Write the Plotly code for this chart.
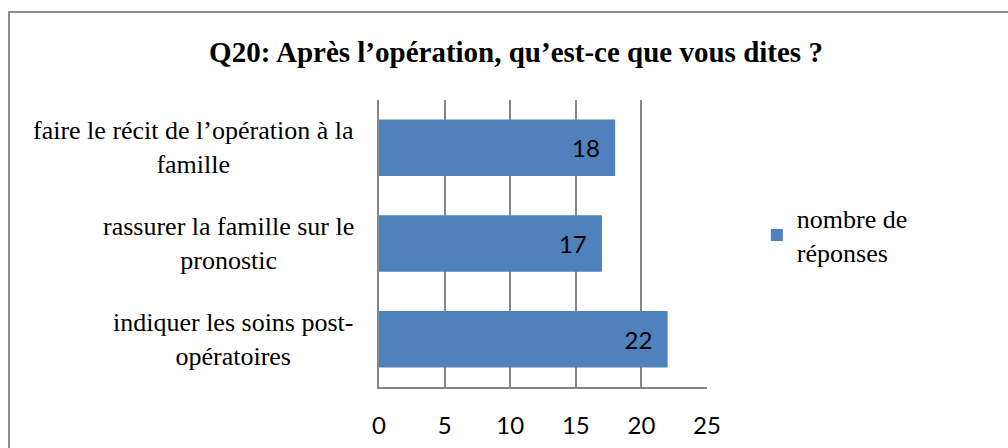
import plotly.graph_objects as go

# categories listed top to bottom as shown
categories = [
    "faire le récit de l’opération à la<br>famille",
    "rassurer la famille sur le<br>pronostic",
    "indiquer les soins post-<br>opératoires",
]
reponses = [18, 17, 22]
x_ticks = [0, 5, 10, 15, 20, 25]
series_name = "nombre de<br>réponses"

bar_color = "#4F81BD"
grid_color = "#868686"

fig = go.Figure()
fig.add_trace(go.Bar(
    y=list(range(len(categories))), x=reponses, orientation="h",
    name=series_name, marker=dict(color=bar_color, line=dict(width=0)),
    texttemplate="%{x}\u00a0\u00a0", textposition="inside", insidetextanchor="end",
    textfont=dict(family="Lato", size=24, color="black"),
    showlegend=True,
))

# category labels, centred on each bar, lines centred between themselves
for i, cat in enumerate(categories):
    fig.add_annotation(
        x=-0.07, xref="paper", y=i, yref="y", text=cat, showarrow=False,
        xanchor="right", yanchor="middle", align="center",
        font=dict(family="Liberation Serif", size=26, color="black"),
    )

# outer frame of the chart (runs off the right and bottom edges)
fig.add_shape(type="rect", xref="paper", yref="paper",
              x0=(9 - 379) / 328, x1=(1020 - 379) / 328,
              y0=(387 - 470) / 287, y1=(387 - 12) / 287,
              line=dict(color="#8c8c8c", width=2), fillcolor="rgba(0,0,0,0)")

fig.update_layout(
    width=1008, height=448,
    margin=dict(l=379, r=301, t=100, b=61),
    paper_bgcolor="white", plot_bgcolor="white",
    bargap=0.41,
    title=dict(text="<b>Q20: Après l’opération, qu’est-ce que vous dites ?</b>",
               x=516 / 1008, xanchor="center", y=1 - 52 / 448, yanchor="middle",
               yref="container",
               font=dict(family="Liberation Serif", size=29, color="black")),
    legend=dict(x=1.152, y=0.67, xanchor="left", yanchor="top",
                font=dict(family="Liberation Serif", size=26, color="black"),
                bgcolor="rgba(0,0,0,0)", itemwidth=30),
    xaxis=dict(range=[0, 25], tickvals=x_ticks, showgrid=True,
               gridcolor=grid_color, gridwidth=1.5, zeroline=False,
               showline=True, linecolor=grid_color, linewidth=1.5,
               ticks="outside", ticklen=16, tickcolor="rgba(0,0,0,0)",
               automargin=False,
               tickfont=dict(family="Lato", size=24, color="black")),
    yaxis=dict(range=[2.5, -0.5], showticklabels=False, showgrid=False,
               zeroline=False, showline=True, linecolor=grid_color,
               linewidth=1.5, ticks=""),
)

fig.write_html("out.html", config={"displayModeBar": False},
               post_script="document.body.style.margin='0';")
